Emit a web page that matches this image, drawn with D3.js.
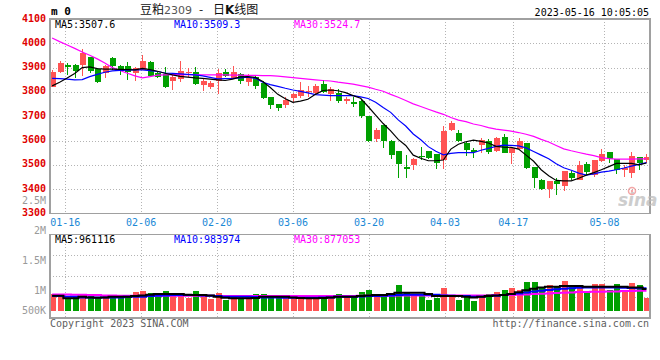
<!DOCTYPE html>
<html>
<head>
<meta charset="utf-8">
<script src="https://cdn.jsdelivr.net/npm/d3@7"></script>
<style>
body { margin: 0; background: #fff; }
svg { display: block; }
</style>
</head>
<body>
<div id="chart"></div>
<script>
// ---- data ----
const dates = ["01-12","01-13","01-16","01-17","01-18","01-19","01-20","01-30","01-31",
  "02-01","02-02","02-03","02-06","02-07","02-08","02-09","02-10","02-13","02-14","02-15","02-16","02-17",
  "02-20","02-21","02-22","02-23","02-24","02-27","02-28",
  "03-01","03-02","03-03","03-06","03-07","03-08","03-09","03-10","03-13","03-14","03-15","03-16","03-17",
  "03-20","03-21","03-22","03-23","03-24","03-27","03-28","03-29","03-30","03-31",
  "04-03","04-04","04-06","04-07","04-10","04-11","04-12","04-13","04-14","04-17","04-18","04-19","04-20","04-21",
  "04-24","04-25","04-26","04-27","04-28","05-04","05-05","05-08","05-09","05-10","05-11","05-12","05-15","05-16"];

const open  = [3822,3880,3909,3912,3909,3943,3894,3877,3939,3905,3905,3877,3891,3925,3877,3874,3843,3853,3880,3884,
               3829,3822,3843,3884,3857,3874,3839,3863,3836,3781,3751,3747,3774,3785,3799,3795,3833,3791,3797,3764,
               3760,3764,3702,3606,3664,3599,3557,3492,3499,3537,3556,3543,3520,3643,3632,3589,3561,3582,3598,3558,
               3613,3550,3564,3589,3492,3437,3399,3434,3414,3465,3437,3503,3458,3516,3551,3523,3479,3465,3531,3520];
const high  = [3891,3928,3921,3916,3978,3945,3897,3912,3943,3912,3925,3902,3951,3926,3880,3902,3870,3928,3898,3902,
               3857,3843,3894,3894,3905,3877,3874,3870,3843,3781,3751,3778,3797,3839,3825,3833,3850,3820,3811,3781,
               3781,3766,3702,3650,3664,3601,3558,3540,3529,3575,3558,3543,3660,3681,3643,3595,3568,3609,3606,3613,
               3627,3572,3612,3592,3492,3440,3434,3445,3474,3475,3516,3513,3520,3564,3553,3525,3499,3554,3533,3543];
const low   = [3820,3878,3870,3857,3867,3877,3835,3857,3891,3870,3850,3847,3889,3863,3857,3815,3808,3840,3863,3829,
               3804,3812,3791,3863,3852,3833,3825,3812,3771,3730,3722,3735,3760,3777,3778,3791,3795,3764,3756,3750,
               3737,3693,3594,3595,3571,3524,3447,3448,3479,3520,3524,3482,3483,3639,3594,3537,3529,3549,3543,3554,
               3547,3502,3564,3484,3406,3398,3362,3376,3393,3437,3437,3458,3451,3513,3506,3461,3451,3448,3478,3506];
const close = [3884,3921,3902,3888,3960,3888,3840,3905,3907,3888,3881,3898,3928,3867,3863,3820,3861,3887,3884,3833,
               3843,3836,3877,3866,3880,3843,3863,3826,3777,3747,3735,3767,3791,3808,3804,3825,3799,3811,3764,3771,
               3750,3702,3599,3643,3599,3540,3503,3483,3525,3535,3529,3509,3639,3674,3598,3561,3552,3602,3554,3609,
               3550,3568,3598,3486,3444,3400,3434,3421,3474,3444,3499,3469,3520,3545,3523,3479,3489,3536,3506,3531];

const ma5  = [3825,3840,3857,3876,3900,3903,3896,3894,3894,3893,3892,3891,3897,3892,3885,3877,3870,3864,3861,3858,
              3856,3853,3850,3847,3853,3862,3863,3860,3843,3818,3790,3772,3757,3762,3770,3790,3806,3808,3805,3797,
              3785,3774,3740,3705,3670,3640,3605,3580,3540,3527,3517,3517,3520,3565,3585,3595,3602,3597,3590,3576,
              3573,3572,3565,3540,3515,3480,3455,3436,3434,3434,3445,3458,3468,3480,3493,3506,3506,3506,3500,3507.6];
const ma10 = [3856,3855,3853,3850,3851,3863,3872,3881,3887,3889,3890,3891,3891,3888,3884,3878,3876,3874,3872,3870,
              3866,3860,3854,3855,3856,3858,3861,3856,3840,3830,3823,3815,3808,3802,3796,3789,3787,3785,3785,3785,
              3785,3780,3773,3758,3736,3716,3685,3660,3627,3603,3575,3556,3541,3547,3550,3550,3550,3560,3568,3576,
              3581,3580,3578,3570,3555,3540,3525,3505,3488,3478,3466,3458,3463,3470,3474,3480,3487,3495,3502,3509.3];
const ma30 = [4022,4007,3993,3979,3964,3951,3936,3919,3900,3888,3877,3866,3858,3863,3869,3870,3871,3871,3871,3871,
              3870,3870,3870,3870,3869,3869,3868,3868,3867,3867,3865,3862,3859,3856,3853,3850,3847,3845,3840,3836,
              3832,3826,3820,3811,3803,3790,3778,3765,3751,3740,3729,3718,3708,3695,3684,3678,3668,3662,3653,3647,
              3643,3639,3633,3626,3617,3605,3594,3580,3566,3558,3551,3544,3538,3530,3526,3524,3524,3524,3525,3524.7];

const volume = [733000,645000,513000,616000,689000,689000,572000,645000,689000,616000,689000,836000,880000,792000,616000,
                880000,792000,792000,572000,880000,689000,513000,792000,469000,689000,572000,572000,733000,733000,689000,
                616000,616000,543000,543000,572000,543000,660000,645000,733000,645000,645000,836000,911000,733000,733000,
                689000,1131000,836000,689000,645000,469000,572000,1012000,645000,469000,616000,425000,689000,733000,836000,
                911000,1012000,911000,1263000,1263000,986000,1131000,1056000,1307000,1056000,1131000,763000,1175000,1175000,911000,
                1175000,911000,1232000,1131000,572000];
const volMa5  = [660000,660000,543000,543000,616000,587000,572000,587000,616000,616000,616000,645000,674000,704000,733000,
                 733000,733000,733000,704000,689000,689000,674000,616000,572000,543000,543000,543000,557000,616000,616000,
                 616000,616000,587000,557000,543000,543000,557000,587000,616000,616000,616000,645000,674000,689000,689000,
                 733000,792000,792000,792000,792000,733000,645000,645000,645000,645000,616000,587000,616000,645000,674000,
                 689000,733000,810000,900000,968000,1027000,1056000,1056000,1087000,1087000,1087000,1056000,1056000,1056000,1056000,
                 1056000,1056000,1027000,1027000,961116];
const volMa10 = [645000,645000,616000,616000,587000,587000,587000,587000,587000,587000,616000,616000,616000,645000,660000,
                 674000,689000,689000,689000,689000,674000,660000,645000,616000,616000,616000,616000,601000,587000,587000,
                 587000,572000,572000,572000,572000,572000,587000,587000,616000,616000,616000,630000,645000,645000,660000,
                 674000,689000,704000,704000,704000,704000,704000,674000,660000,645000,645000,616000,616000,645000,660000,
                 689000,733000,763000,807000,851000,880000,911000,940000,968000,986000,1012000,1027000,1027000,1027000,1027000,
                 1027000,1012000,997000,986000,983974];
const volMa30 = [719000,719000,719000,704000,704000,689000,689000,674000,674000,660000,660000,660000,660000,660000,660000,
                 660000,660000,660000,660000,660000,660000,660000,645000,645000,645000,645000,645000,645000,645000,645000,
                 645000,645000,645000,645000,645000,645000,645000,645000,645000,645000,645000,660000,660000,660000,660000,
                 660000,674000,674000,674000,674000,674000,674000,674000,674000,674000,674000,674000,674000,674000,689000,
                 689000,689000,704000,719000,733000,748000,763000,777000,792000,807000,821000,821000,836000,836000,851000,
                 851000,865000,865000,880000,877053];

const priceTicks = [3300,3400,3500,3600,3700,3800,3900,4000,4100];
const volTicks = [500000,1000000,1500000,2000000,2500000];
const volTickLabels = ["500K","1M","1.5M","2M","2.5M"];
const dateTicks = ["01-16","02-06","02-20","03-06","03-20","04-03","04-17","05-08"];

// ---- layout ----
const width = 660;
const height = 360;
const left = 50, right = 650;
const priceTop = 19, priceBottom = 213.5;
const volTop = 234.5, volBottom = 318;
const mono = "'DejaVu Sans Mono', monospace";
const cjk = "'Noto Sans CJK SC', sans-serif";
const upColor = "#ff5353";
const downColor = "#00a000";
const gridColor = "#b4b4b4";
const frameColor = "#a0a0a0";

const svg = d3.select("#chart").append("svg")
    .attr("width", width)
    .attr("height", height)
    .style("background", "#fff");

const idx = d3.range(dates.length);

const x = d3.scaleBand().domain(idx).range([49.3, 649.3]).paddingInner(0.25);
const cx = function(i) { return x(i) + x.bandwidth() / 2; };
const xTick = d3.scalePoint().domain(idx).range([left, right]);

const y = d3.scaleLinear().domain([3300, 4100]).range([priceBottom, priceTop]);
const yVol = d3.scaleLinear().domain([0, 1000000]).range([310.7, 288]);
const yVolLabel = d3.scaleLinear().domain([1000000, 2500000]).range([294.3, 204.3]);

const colorOf = function(i) { return close[i] >= open[i] ? upColor : downColor; };
const tickIdx = dateTicks.map(function(d) { return dates.indexOf(d); });
const snap = function(v) { return Math.round(v) + 0.5; };

//---------------------------GRID-----------------------------//
const grid = svg.append("g")
    .attr("stroke", gridColor)
    .attr("stroke-dasharray", "1,2")
    .attr("shape-rendering", "crispEdges");

grid.selectAll(".hgrid")
    .data(priceTicks.slice(1, -1))
    .join("line")
    .attr("x1", left).attr("x2", right)
    .attr("y1", function(d) { return snap(y(d)); })
    .attr("y2", function(d) { return snap(y(d)); });

grid.selectAll(".vgrid")
    .data(tickIdx)
    .join("line")
    .attr("x1", function(d) { return snap(xTick(d)); })
    .attr("x2", function(d) { return snap(xTick(d)); })
    .attr("y1", priceTop).attr("y2", priceBottom);

grid.selectAll(".vgrid2")
    .data(tickIdx)
    .join("line")
    .attr("x1", function(d) { return snap(xTick(d)); })
    .attr("x2", function(d) { return snap(xTick(d)); })
    .attr("y1", volTop).attr("y2", volBottom);

grid.selectAll(".hgrid2")
    .data([1, 2, 3])
    .join("line")
    .attr("x1", left).attr("x2", right)
    .attr("y1", function(d) { return snap(volTop + (volBottom - volTop) * d / 4); })
    .attr("y2", function(d) { return snap(volTop + (volBottom - volTop) * d / 4); });

//---------------------------CANDLES-----------------------------//
const candles = svg.append("g")
    .selectAll("g")
    .data(idx)
    .join("g");

candles.append("line")
    .attr("x1", function(i) { return Math.round(cx(i)) + 0.5; })
    .attr("x2", function(i) { return Math.round(cx(i)) + 0.5; })
    .attr("y1", function(i) { return y(high[i]); })
    .attr("y2", function(i) { return y(low[i]); })
    .attr("stroke", colorOf)
    .attr("shape-rendering", "crispEdges");

candles.append("rect")
    .attr("x", function(i) { return Math.round(cx(i)) - 2.5; })
    .attr("width", 6)
    .attr("y", function(i) { return y(Math.max(open[i], close[i])); })
    .attr("height", function(i) { return Math.max(1, Math.abs(y(open[i]) - y(close[i]))); })
    .attr("fill", colorOf)
    .attr("shape-rendering", "crispEdges");

const priceLine = function(arr) {
    return d3.line()
        .x(function(i) { return cx(i); })
        .y(function(i) { return y(arr[i]); })(idx);
};

[[ma30, "#ff00ff"], [ma10, "#0000ff"], [ma5, "#000000"]].forEach(function(s) {
    svg.append("path")
        .attr("d", priceLine(s[0]))
        .attr("fill", "none")
        .attr("stroke", s[1])
        .attr("stroke-width", 1.2);
});

//---------------------------VOLUME-----------------------------//
svg.append("g")
    .selectAll("rect")
    .data(idx)
    .join("rect")
    .attr("x", function(i) { return Math.round(cx(i)) - 2.5; })
    .attr("width", 6)
    .attr("y", function(i) { return yVol(volume[i]); })
    .attr("height", function(i) { return yVol(0) - yVol(volume[i]); })
    .attr("fill", colorOf)
    .attr("shape-rendering", "crispEdges");

const volLine = d3.line().curve(d3.curveStep)
    .x(function(d) { return cx(d.i); })
    .y(function(d) { return yVol(d.v); });

[[volMa30, "#ff00ff"], [volMa10, "#0000ff"], [volMa5, "#000000"]].forEach(function(s) {
    svg.append("path")
        .attr("d", volLine(idx.map(function(i) { return {i: i, v: s[0][i]}; })))
        .attr("fill", "none")
        .attr("stroke", s[1])
        .attr("stroke-width", 2);
});

//---------------------------FRAMES-----------------------------//
const frame = svg.append("g")
    .attr("fill", "none")
    .attr("stroke", frameColor)
    .attr("shape-rendering", "crispEdges");

frame.append("rect")
    .attr("x", left).attr("y", priceTop)
    .attr("width", right - left).attr("height", priceBottom - priceTop)
    .attr("stroke-width", 1.5);

frame.append("rect")
    .attr("x", left).attr("y", volTop)
    .attr("width", right - left).attr("height", volBottom - volTop)
    .attr("stroke-width", 1.5);

//---------------------------LABELS-----------------------------//
svg.append("g")
    .selectAll("text")
    .data(priceTicks)
    .join("text")
    .attr("x", 46)
    .attr("y", function(d) { return y(d) + 2.5; })
    .attr("text-anchor", "end")
    .attr("font-family", mono)
    .attr("font-size", 10)
    .attr("font-weight", "bold")
    .attr("fill", "#e00000")
    .text(function(d) { return d; });

svg.append("g")
    .selectAll("text")
    .data(volTicks)
    .join("text")
    .attr("x", 46)
    .attr("y", function(d) { return Math.min(314, yVolLabel(d)); })
    .attr("text-anchor", "end")
    .attr("font-family", mono)
    .attr("font-size", 10)
    .attr("fill", "#9a9a9a")
    .text(function(d, i) { return volTickLabels[i]; });

svg.append("g")
    .selectAll("text")
    .data(tickIdx)
    .join("text")
    .attr("x", function(d) { return xTick(d); })
    .attr("y", 225.5)
    .attr("text-anchor", "middle")
    .attr("font-family", mono)
    .attr("font-size", 10)
    .attr("fill", "#1a88d6")
    .text(function(d) { return dates[d]; });

const legend = function(yPos, items) {
    svg.append("g")
        .selectAll("text")
        .data(items)
        .join("text")
        .attr("x", function(d) { return d[0]; })
        .attr("y", yPos)
        .attr("font-family", mono)
        .attr("font-size", 10)
        .attr("fill", function(d) { return d[2]; })
        .text(function(d) { return d[1]; });
};

legend(27.5, [[55, "MA5:" + ma5[ma5.length - 1].toFixed(1), "#000"],
              [174, "MA10:" + ma10[ma10.length - 1].toFixed(1), "#0000ff"],
              [294, "MA30:" + ma30[ma30.length - 1].toFixed(1), "#ff00ff"]]);
legend(242.5, [[55, "MA5:" + volMa5[volMa5.length - 1], "#000"],
               [174, "MA10:" + volMa10[volMa10.length - 1], "#0000ff"],
               [294, "MA30:" + volMa30[volMa30.length - 1], "#ff00ff"]]);

// header
svg.append("text")
    .attr("x", 51).attr("y", 15)
    .attr("font-family", mono)
    .attr("font-size", 11)
    .attr("font-weight", "bold")
    .text("m 0");

const title = svg.append("g")
    .attr("font-family", cjk)
    .attr("font-size", 12)
    .attr("fill", "#111");
title.append("text").attr("x", 140).attr("y", 14).text("豆粕");
title.append("text").attr("x", 164).attr("y", 14)
    .attr("font-family", "'DejaVu Sans', sans-serif").attr("font-size", 11)
    .attr("fill", "#555").text("2309");
title.append("text").attr("x", 199).attr("y", 14).text("-");
title.append("text").attr("x", 213).attr("y", 14)
    .html("日<tspan font-weight='bold' font-family=\"'DejaVu Sans', sans-serif\">K</tspan>线图");

svg.append("text")
    .attr("x", 649).attr("y", 15.5)
    .attr("text-anchor", "end")
    .attr("font-family", mono)
    .attr("font-size", 10)
    .text("2023-05-16 10:05:05");

svg.append("text")
    .attr("x", 50).attr("y", 327)
    .attr("font-family", mono)
    .attr("font-size", 10)
    .attr("fill", "#606060")
    .text("Copyright 2023 SINA.COM");

svg.append("text")
    .attr("x", 649).attr("y", 327)
    .attr("text-anchor", "end")
    .attr("font-family", mono)
    .attr("font-size", 10)
    .attr("fill", "#606060")
    .text("http://finance.sina.com.cn");

// sina watermark
const logo = svg.append("g").attr("opacity", 0.75);
logo.append("text")
    .attr("x", 618).attr("y", 206)
    .attr("font-family", "'DejaVu Sans', sans-serif")
    .attr("font-size", 17)
    .attr("font-weight", "bold")
    .attr("font-style", "italic")
    .attr("fill", "#bdbdbd")
    .text("sina");
logo.append("circle")
    .attr("cx", 632).attr("cy", 191)
    .attr("r", 3.5)
    .attr("fill", "none")
    .attr("stroke", "#f08a8a")
    .attr("stroke-width", 1.5);
logo.append("circle")
    .attr("cx", 632).attr("cy", 191)
    .attr("r", 1.2)
    .attr("fill", "#f08a8a");
</script>
</body>
</html>
